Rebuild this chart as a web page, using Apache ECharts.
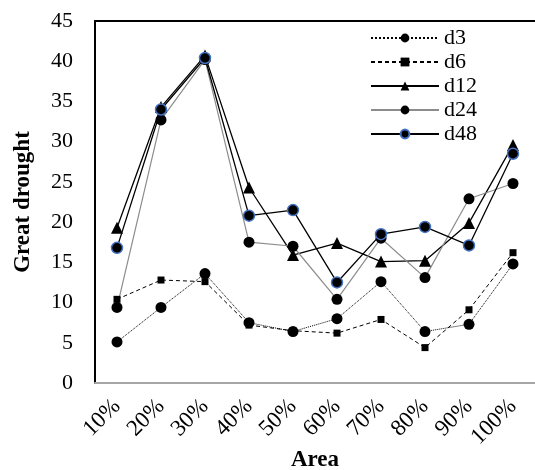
<!DOCTYPE html>
<html>
<head>
<meta charset="utf-8">
<script src="https://cdn.jsdelivr.net/npm/echarts@6/dist/echarts.min.js"></script>
<style>
html,body{margin:0;padding:0;background:#fff;}
#c{width:535px;height:470px;}
</style>
</head>
<body>
<div id="c"></div>
<script>
var categories = ['10%','20%','30%','40%','50%','60%','70%','80%','90%','100%'];
var d3  = [5.1, 9.4, 13.6, 7.5, 6.4, 8.0, 12.6, 6.4, 7.3, 14.8];
var d6  = [10.4, 12.8, 12.6, 7.2, 6.5, 6.2, 7.9, 4.4, 9.1, 16.2];
var d12 = [19.3, 34.3, 40.7, 24.3, 15.9, 17.4, 15.1, 15.2, 19.9, 29.6];
var d24 = [9.4, 32.7, 40.2, 17.5, 17.0, 10.4, 18.0, 13.1, 22.9, 24.8];
var d48 = [16.8, 34.0, 40.4, 20.8, 21.5, 12.5, 18.5, 19.4, 17.1, 28.5];

var font = 'Liberation Serif';
var chart = echarts.init(document.getElementById('c'), null, {renderer:'canvas'});
chart.setOption({
  animation: false,
  backgroundColor: '#fff',
  grid: {left: 95, right: 0, top: 21, bottom: 87, containLabel: false, outerBoundsMode: 'none'},
  legend: {
    orient: 'vertical',
    left: 365,
    top: 21,
    itemWidth: 68,
    itemHeight: 11,
    itemGap: 0,
    textStyle: {fontFamily: font, fontSize: 22, color: '#000', lineHeight: 24},
    data: ['d3','d6','d12','d24','d48']
  },
  xAxis: [{
    type: 'category',
    data: categories,
    boundaryGap: true,
    name: 'Area',
    nameLocation: 'middle',
    nameGap: 66,
    nameMoveOverlap: false,
    nameTextStyle: {fontFamily: font, fontSize: 23, fontWeight: 'bold', color: '#000'},
    axisLine: {lineStyle: {color: '#a6a6a6', width: 2}},
    axisTick: {show: false},
    axisLabel: {rotate: 45, margin: 20, fontFamily: font, fontSize: 23, color: '#000'},
    splitLine: {show: false}
  }, {
    type: 'category',
    data: categories,
    position: 'top',
    axisLine: {lineStyle: {color: '#000', width: 2}},
    axisTick: {show: false},
    axisLabel: {show: false},
    splitLine: {show: false}
  }],
  yAxis: {
    type: 'value',
    min: 0, max: 45, interval: 5,
    name: 'Great drought',
    nameLocation: 'middle',
    nameGap: 60,
    nameMoveOverlap: false,
    nameTextStyle: {fontFamily: font, fontSize: 23, fontWeight: 'bold', color: '#000'},
    axisLine: {show: true, lineStyle: {color: '#000', width: 2}},
    axisTick: {show: false},
    axisLabel: {margin: 22, fontFamily: font, fontSize: 22, color: '#000'},
    splitLine: {show: false}
  },
  series: [
    {name:'d3', type:'line', data:d3, symbol:'circle', symbolSize:11,
     itemStyle:{color:'#000'}, lineStyle:{color:'#000', width:1, type:'dotted'}},
    {name:'d6', type:'line', data:d6, symbol:'rect', symbolSize:7,
     itemStyle:{color:'#000'}, lineStyle:{color:'#000', width:1, type:[4,3]}},
    {name:'d12', type:'line', data:d12, symbol:'triangle', symbolSize:12,
     itemStyle:{color:'#000'}, lineStyle:{color:'#000', width:1.3}},
    {name:'d24', type:'line', data:d24, symbol:'circle', symbolSize:11,
     itemStyle:{color:'#000'}, lineStyle:{color:'#8c8c8c', width:1.2}},
    {name:'d48', type:'line', data:d48, symbol:'circle', symbolSize:11,
     itemStyle:{color:'#000', borderColor:'#4472C4', borderWidth:1.5}, lineStyle:{color:'#000', width:1.3}}
  ]
});
</script>
</body>
</html>
